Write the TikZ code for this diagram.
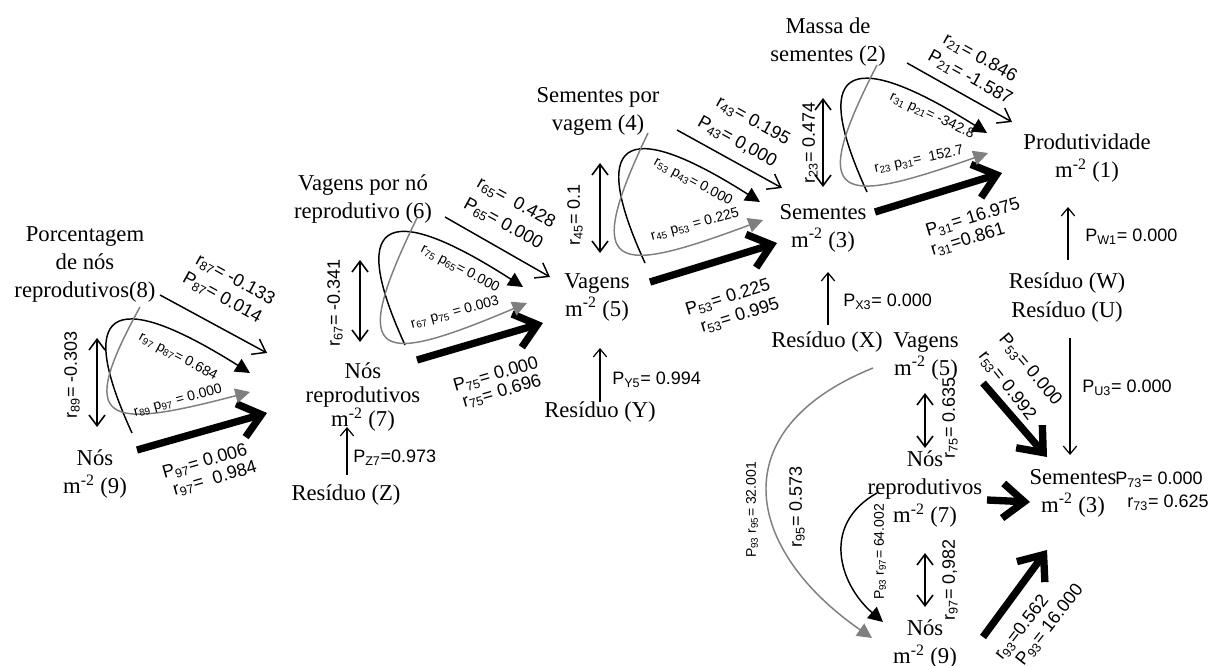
\documentclass[tikz,border=0pt]{standalone}
\usepackage{fontspec}
\setmainfont{Liberation Serif}
\newfontfamily\lsans{Liberation Sans}
\usetikzlibrary{arrows.meta}
\definecolor{gcol}{HTML}{7F7F7F}
\tikzset{
 vname/.style={font=\fontsize{17}{21}\selectfont, align=center, inner sep=0pt},
 lab/.style={font=\lsans\fontsize{13.5}{16}\selectfont, inner sep=0pt},
 slab/.style={font=\lsans\fontsize{10.5}{12}\selectfont, inner sep=0pt},
 thinarr/.style={line width=1.1pt, -{Straight Barb[length=9pt,width=13pt]}},
 thickarr/.style={line width=5.5pt, -{Straight Barb[length=16pt,width=26pt]}},
 dblarr/.style={line width=1.2pt, {Straight Barb[length=8pt,width=12pt]}-{Straight Barb[length=8pt,width=12pt]}},
 resarr/.style={line width=0.9pt, -{Straight Barb[length=6pt,width=10pt]}},
 bcurve/.style={line width=1.1pt, -{Triangle[length=11pt,width=11pt]}},
 gcurve/.style={line width=1.1pt, draw=gcol, -{Triangle[length=11pt,width=11pt]}},
}
\newcommand\sbs[1]{\textsubscript{#1}}
\begin{document}
\begin{tikzpicture}[x=0.75pt,y=-0.75pt]
\useasboundingbox (0,0) rectangle (1216,666);
% ---------------- nodes
\node[vname] (n8) at (85,264) {Porcentagem\\de nós\\reprodutivos(8)};
\node[vname] (n9) at (95,474) {Nós\\m\textsuperscript{-2} (9)};
\node[vname] (n6) at (363,199) {Vagens por nó\\reprodutivo (6)};
\node[vname] (n7) at (363,397) {Nós\\[-3pt]reprodutivos\\[-3pt]m\textsuperscript{-2} (7)};
\node[vname] (n4) at (598,111) {Sementes por\\vagem (4)};
\node[vname] (n5) at (597,297) {Vagens\\m\textsuperscript{-2} (5)};
\node[vname] (n2) at (828,42) {Massa de\\sementes (2)};
\node[vname] (n3) at (823,228) {Sementes\\m\textsuperscript{-2} (3)};
\node[vname] (n1) at (1087,158) {Produtividade\\m\textsuperscript{-2} (1)};
\node[vname] (rz) at (346,495) {Resíduo (Z)};
\node[vname] (ry) at (600,412) {Resíduo (Y)};
\node[vname] (rx) at (827,342) {Resíduo (X)};
\node[vname] (rw) at (1067,283) {Resíduo (W)};
\node[vname] (ru) at (1067,312) {Resíduo (U)};
\node[vname] (m5) at (926,356) {Vagens\\m\textsuperscript{-2} (5)};
\node[vname] (m7) at (925,489) {Nós\\reprodutivos\\m\textsuperscript{-2} (7)};
\node[vname] (m9) at (925,644) {Nós\\m\textsuperscript{-2} (9)};
\node[vname] (m3) at (1073,493) {Sementes\\m\textsuperscript{-2} (3)};
% ---------------- group A (8,9 -> 7)
\coordinate (A1s) at (160,295); \coordinate (A1e) at (267,353);
\coordinate (A2s) at (137,450); \coordinate (A2e) at (267,413);
\coordinate (A3s) at (97,338);  \coordinate (A3e) at (97,427);
\coordinate (A4s) at (132,433); \coordinate (A4e) at (250,373);
\coordinate (A5s) at (140,307); \coordinate (A5e) at (250,392);
\draw[thinarr] (A1s) -- (A1e);
\draw[thickarr] (A2s) -- (A2e);
\draw[dblarr] (A3s) -- (A3e);
\draw[bcurve] (A4s) .. controls (77,313) and (107,283) .. (A4e);
\draw[gcurve] (A5s) .. controls (75,425) and (105,430) .. (A5e);
\node[lab, rotate=-29] (lA1) at (235,280) {r\sbs{87}= -0.133};
\node[lab, rotate=-29] (lA2) at (222,298) {P\sbs{87}= 0.014};
\node[slab, rotate=-28] (lA3) at (178,357) {r\sbs{97} p\sbs{87}= 0.684};
\node[slab, rotate=15] (lA4) at (178,401) {r\sbs{89} p\sbs{97} = 0.000};
\node[lab, rotate=16] (lA5) at (205,462) {P\sbs{97}= 0.006};
\node[lab, rotate=16] (lA6) at (215,479) {r\sbs{97}=\ \ 0.984};
\node[lab, rotate=90] (lA7) at (72,375) {r\sbs{89}= -0.303};
% ---------------- group B (6,7 -> 5)
\coordinate (B1s) at (445,217); \coordinate (B1e) at (550,277);
\coordinate (B2s) at (417,360); \coordinate (B2e) at (543,323);
\coordinate (B3s) at (360,260); \coordinate (B3e) at (360,342);
\coordinate (B4s) at (405,345); \coordinate (B4e) at (523,287);
\coordinate (B5s) at (417,218); \coordinate (B5e) at (527,303);
\draw[thinarr] (B1s) -- (B1e);
\draw[thickarr] (B2s) -- (B2e);
\draw[dblarr] (B3s) -- (B3e);
\draw[bcurve] (B4s) .. controls (350,225) and (380,195) .. (B4e);
\draw[gcurve] (B5s) .. controls (345,365) and (380,365) .. (B5e);
\node[lab, rotate=-29] (lB1) at (516,203) {r\sbs{65}=\ \ 0.428};
\node[lab, rotate=-29] (lB2) at (503,224) {P\sbs{65}= 0.000};
\node[slab, rotate=-28] (lB3) at (460,269) {r\sbs{75} p\sbs{65}= 0.000};
\node[slab, rotate=15] (lB4) at (455,313) {r\sbs{67} p\sbs{75} = 0.003};
\node[lab, rotate=16] (lB5) at (496,375) {P\sbs{75}= 0.000};
\node[lab, rotate=16] (lB6) at (502,392) {r\sbs{75}= 0.696};
\node[lab, rotate=90] (lB7) at (335,303) {r\sbs{67}= -0.341};
% ---------------- group C (4,5 -> 3)
\coordinate (C1s) at (677,130); \coordinate (C1e) at (782,188);
\coordinate (C2s) at (650,282); \coordinate (C2e) at (777,243);
\coordinate (C3s) at (600,163); \coordinate (C3e) at (600,253);
\coordinate (C4s) at (645,263); \coordinate (C4e) at (760,202);
\coordinate (C5s) at (648,133); \coordinate (C5e) at (763,220);
\draw[thinarr] (C1s) -- (C1e);
\draw[thickarr] (C2s) -- (C2e);
\draw[dblarr] (C3s) -- (C3e);
\draw[bcurve] (C4s) .. controls (590,143) and (620,113) .. (C4e);
\draw[gcurve] (C5s) .. controls (580,275) and (615,275) .. (C5e);
\node[lab, rotate=-29] (lC1) at (753,121) {r\sbs{43}= 0.195};
\node[lab, rotate=-29] (lC2) at (737,142) {P\sbs{43}= 0,000};
\node[slab, rotate=-28] (lC3) at (693,182) {r\sbs{53} p\sbs{43}= 0.000};
\node[slab, rotate=15] (lC4) at (695,225) {r\sbs{45} p\sbs{53} = 0.225};
\node[lab, rotate=17] (lC5) at (728,298) {P\sbs{53}= 0.225};
\node[lab, rotate=17] (lC6) at (740,316) {r\sbs{53}= 0.995};
\node[lab, rotate=90] (lC7) at (575,215) {r\sbs{45}= 0.1};
% ---------------- group D (2,3 -> 1)
\coordinate (D1s) at (907,63);  \coordinate (D1e) at (1012,122);
\coordinate (D2s) at (875,212); \coordinate (D2e) at (1002,173);
\coordinate (D3s) at (823,98);  \coordinate (D3e) at (823,187);
\coordinate (D4s) at (867,192); \coordinate (D4e) at (987,133);
\coordinate (D5s) at (877,65);  \coordinate (D5e) at (988,153);
\draw[thinarr] (D1s) -- (D1e);
\draw[thickarr] (D2s) -- (D2e);
\draw[dblarr] (D3s) -- (D3e);
\draw[bcurve] (D4s) .. controls (812,72) and (842,42) .. (D4e);
\draw[gcurve] (D5s) .. controls (805,205) and (840,205) .. (D5e);
\node[lab, rotate=-29] (lD1) at (980,58) {r\sbs{21}= 0.846};
\node[lab, rotate=-29] (lD2) at (970,78) {P\sbs{21}= -1.587};
\node[slab, rotate=-25] (lD3) at (932,116) {r\sbs{31} p\sbs{21}= -342.8};
\node[slab, rotate=12] (lD4) at (919,160) {r\sbs{23} p\sbs{31}=\ \ 152.7};
\node[lab, rotate=17] (lD5) at (973,218) {P\sbs{31}= 16.975};
\node[lab, rotate=17] (lD6) at (968,240) {r\sbs{31}=0.861};
\node[lab, rotate=90] (lD7) at (810,143) {r\sbs{23}= 0.474};
% ---------------- residuals
\coordinate (Zs) at (347,475); \coordinate (Ze) at (347,427);
\coordinate (Ys) at (600,402); \coordinate (Ye) at (600,348);
\coordinate (Xs) at (828,325); \coordinate (Xe) at (828,272);
\coordinate (Ws) at (1068,260); \coordinate (We) at (1068,207);
\coordinate (Us) at (1070,338); \coordinate (Ue) at (1070,455);
\draw[resarr] (Zs) -- (Ze);
\draw[resarr] (Ys) -- (Ye);
\draw[resarr] (Xs) -- (Xe);
\draw[resarr] (Ws) -- (We);
\draw[resarr] (Us) -- (Ue);
\node[lab, anchor=west] (pz) at (353,458) {P\sbs{Z7}=0.973};
\node[lab, anchor=west] (py) at (612,380) {P\sbs{Y5}= 0.994};
\node[lab, anchor=west] (px) at (843,302) {P\sbs{X3}= 0.000};
\node[lab, anchor=west] (pw) at (1085,237) {P\sbs{W1}= 0.000};
\node[lab, anchor=west] (pu) at (1082,388) {P\sbs{U3}= 0.000};
% ---------------- right group (5,7,9 -> 3)
\coordinate (E1s) at (925,393); \coordinate (E1e) at (925,448);
\coordinate (E2s) at (925,553); \coordinate (E2e) at (925,607);
\coordinate (E3s) at (983,383); \coordinate (E3e) at (1047,457);
\coordinate (E4s) at (987,500); \coordinate (E4e) at (1030,502);
\coordinate (E5s) at (983,637); \coordinate (E5e) at (1047,550);
\coordinate (E6s) at (873,368); \coordinate (E6e) at (872,638);
\coordinate (E7s) at (877,493); \coordinate (E7e) at (883,622);
\draw[dblarr] (E1s) -- (E1e);
\draw[dblarr] (E2s) -- (E2e);
\draw[thickarr] (E3s) -- (E3e);
\draw[thickarr] (E4s) -- (E4e);
\draw[thickarr] (E5s) -- (E5e);
\draw[gcurve] (E6s) .. controls (720,430) and (745,550) .. (E6e);
\draw[bcurve] (E7s) .. controls (820,525) and (840,585) .. (E7e);
\node[lab, rotate=-50] (lE1) at (1030,370) {P\sbs{53}= 0.000};
\node[lab, rotate=-52] (lE2) at (1007,386) {r\sbs{53}= 0.992};
\node[lab] (lE3) at (1159,480) {P\sbs{73}= 0.000};
\node[lab] (lE4) at (1168,503) {r\sbs{73}= 0.625};
\node[lab, rotate=90] (lE5) at (950,418) {r\sbs{75}= 0.635};
\node[lab, rotate=90] (lE6) at (950,580) {r\sbs{97}= 0,982};
\node[slab, rotate=90] (lE7) at (752,510) {P\sbs{93} r\sbs{95}= 32.001};
\node[lab, rotate=90] (lE8) at (797,507) {r\sbs{95}= 0.573};
\node[slab, rotate=90] (lE9) at (880,552) {P\sbs{93} r\sbs{97}= 64.002};
\node[lab, rotate=52] (lE10) at (1022,628) {r\sbs{93}=0.562};
\node[lab, rotate=52] (lE11) at (1050,625) {P\sbs{93}= 16.000};
\end{tikzpicture}
\end{document}
